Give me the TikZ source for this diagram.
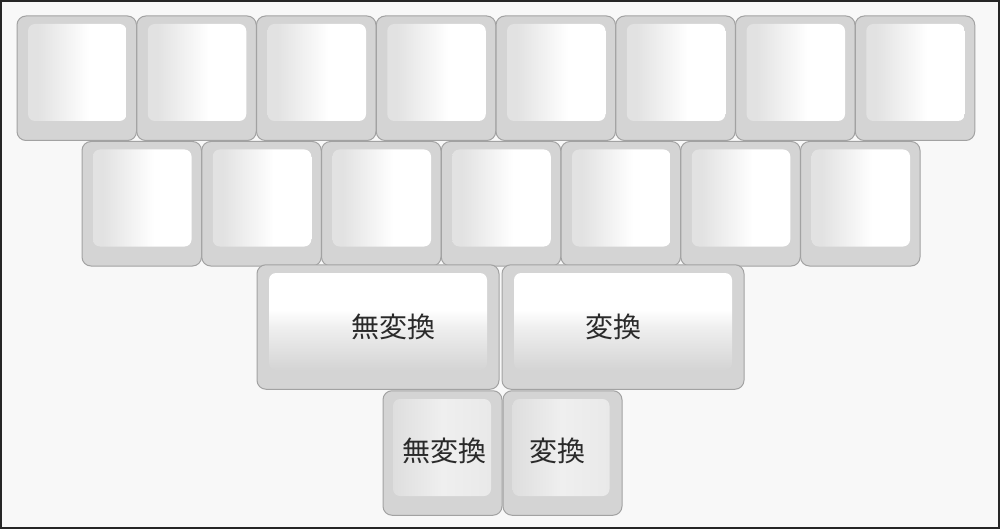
\documentclass[tikz,border=0pt]{standalone}
\usepackage{fontspec}
\newfontfamily\jpfont{Noto Sans CJK JP}

\definecolor{pagebg}{HTML}{F8F8F8}
\definecolor{pageedge}{HTML}{262626}
\definecolor{keyedge}{HTML}{A2A2A2}
\definecolor{keyfill}{HTML}{D4D4D4}
\definecolor{capgrey}{HTML}{E2E2E2}
\definecolor{widegrey}{HTML}{D4D4D4}
\definecolor{smallleft}{HTML}{DEDEDE}
\definecolor{smallmid}{HTML}{EFEFEF}
\definecolor{smallright}{HTML}{E9E9E9}
\definecolor{labelink}{HTML}{2A2A2A}

% shadings of the key tops
\pgfdeclarehorizontalshading{flatshade}{100bp}{color(0bp)=(capgrey); color(30bp)=(capgrey); color(56bp)=(white); color(100bp)=(white)}
\pgfdeclareverticalshading{wideshade}{100bp}{color(0bp)=(widegrey); color(25bp)=(widegrey); color(47bp)=(smallmid); color(56bp)=(white); color(100bp)=(white)}
\pgfdeclarehorizontalshading{smallshade}{100bp}{color(0bp)=(smallleft); color(25bp)=(smallleft); color(50bp)=(smallmid); color(75bp)=(smallright); color(100bp)=(smallright)}

\tikzset{
  keyframe/.style={draw=keyedge, line width=1pt, fill=keyfill, rounded corners=9pt,
    inner sep=0pt, outer sep=0pt, minimum height=124.5pt},
  keytop/.style={rounded corners=7pt, inner sep=0pt, outer sep=0pt, minimum height=97pt},
  keylabel/.style={font=\jpfont\fontsize{28}{30}\selectfont, text=labelink, inner sep=0pt}
}

\begin{document}
\begin{tikzpicture}[x=1pt, y=-1pt]
                % Page with its frame
                \useasboundingbox (0,0) rectangle (1000,529);
                \fill[pagebg] (0,0) rectangle (1000,529);
                \draw[pageedge, line width=2pt] (1,1) rectangle (999,528);

                % Top row: eight keys
                \foreach \i in {1,...,8} {
                    \node[keyframe, minimum width=119.5pt] (top\i) at ({76.75+119.75*(\i-1)},78.25) {};
                    \node[keytop, shading=flatshade, minimum width=98.5pt] (topcap\i) at ([shift={(0.5,-5.75)}]top\i.center) {};
                }

                % Second row: seven keys
                \foreach \i in {1,...,7} {
                    \node[keyframe, minimum width=119.5pt] (mid\i) at ({141.75+119.75*(\i-1)},203.75) {};
                    \node[keytop, shading=flatshade, minimum width=98.5pt] (midcap\i) at ([shift={(0.5,-5.75)}]mid\i.center) {};
                }

                % Third row: the two wide keys
                \node[keyframe, minimum width=242pt] (muhenkan) at (378,327) {};
                \node[keytop, shading=wideshade, minimum width=218pt] (muhenkancap) at ([shift={(0,-5.5)}]muhenkan.center) {};
                \node[keylabel] (muhenkantext) at (393,327) {無変換};

                \node[keyframe, minimum width=242pt] (henkan) at (623,327) {};
                \node[keytop, shading=wideshade, minimum width=218pt] (henkancap) at ([shift={(0,-5.5)}]henkan.center) {};
                \node[keylabel] (henkantext) at (613.5,327) {変換};

                % Bottom row: the two thumb keys
                \node[keyframe, minimum width=119pt] (muhenkansmall) at (442.5,453) {};
                \node[keytop, shading=smallshade, minimum width=98pt] (muhenkansmallcap) at ([shift={(-0.5,-5.5)}]muhenkansmall.center) {};
                \node[keylabel] (muhenkansmalltext) at (444.5,450.5) {無変換};

                \node[keyframe, minimum width=119pt] (henkansmall) at (562.5,453) {};
                \node[keytop, shading=smallshade, minimum width=97pt] (henkansmallcap) at ([shift={(-1.5,-5.5)}]henkansmall.center) {};
                \node[keylabel] (henkansmalltext) at (557,450.5) {変換};

            \end{tikzpicture}
\end{document}
